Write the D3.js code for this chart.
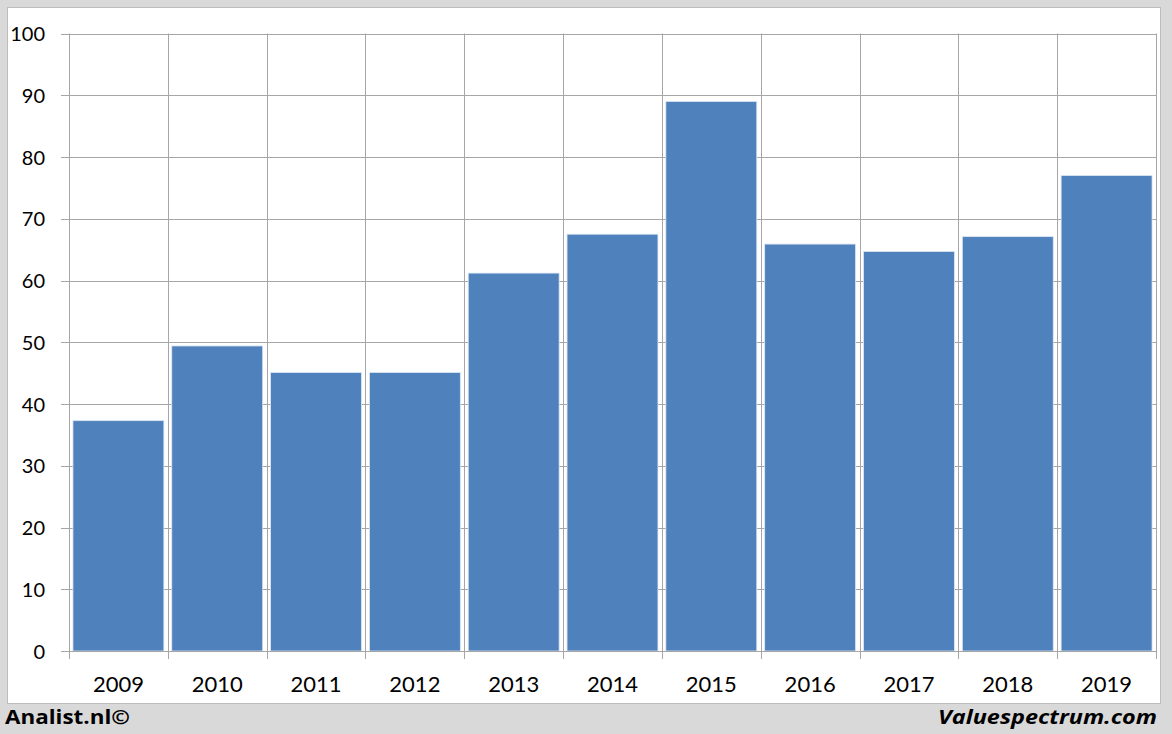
<!DOCTYPE html>
<html><head><meta charset="utf-8">
<script src="https://cdn.jsdelivr.net/npm/d3@7"></script>
<style>html,body{margin:0;padding:0;background:#d9d9d9;}svg{display:block;}</style>
</head><body>
<svg id="c" width="1172" height="734"></svg>
<script>
const years = ["2009","2010","2011","2012","2013","2014","2015","2016","2017","2018","2019"];
const values = [37.3, 49.4, 45.1, 45.1, 61.2, 67.5, 89.0, 65.9, 64.7, 67.1, 77.0];
const yTicks = [0,10,20,30,40,50,60,70,80,90,100];

const svg = d3.select("#c");
const W = 1172, H = 734;
const m = {left: 69, right: 1156, top: 33.5, bottom: 651};

svg.append("rect").attr("x",0).attr("y",0).attr("width",W).attr("height",H).attr("fill","#d9d9d9");
svg.append("rect").attr("x",7.5).attr("y",7.5).attr("width",1153).attr("height",696)
  .attr("fill","#fff").attr("stroke","#bdbdbd").attr("stroke-width",1);

const x = d3.scaleBand().domain(years).range([m.left, m.right]).paddingInner(0.08).paddingOuter(0.04);
const xb = d3.scaleBand().domain(years).range([m.left, m.right]).padding(0);
const y = d3.scaleLinear().domain([0,100]).range([m.bottom, m.top]);

const font = "Lato, 'Open Sans', sans-serif";
const grid = "#a6a6a6";

// horizontal gridlines
svg.append("g").selectAll("line").data(yTicks.filter(d=>d>0)).join("line")
  .attr("x1", m.left - 8).attr("x2", m.right)
  .attr("y1", d=>Math.round(y(d))+0.5).attr("y2", d=>Math.round(y(d))+0.5)
  .attr("stroke", grid).attr("stroke-width",1);

// vertical gridlines at category boundaries
const bounds = years.map(d=>xb(d)).concat([m.right]);
svg.append("g").selectAll("line").data(bounds).join("line")
  .attr("x1", d=>Math.round(d)+0.5).attr("x2", d=>Math.round(d)+0.5)
  .attr("y1", m.top).attr("y2", m.bottom + 8)
  .attr("stroke", grid).attr("stroke-width",1);

// bars
svg.append("g").selectAll("rect").data(values).join("rect")
  .attr("x", (d,i)=>x(years[i]))
  .attr("width", x.bandwidth())
  .attr("y", d=>y(d))
  .attr("height", d=>y(0)-y(d))
  .attr("fill", "#4f81bd")
  .attr("stroke", "#dce6f2").attr("stroke-width", 0.8);

// baseline
svg.append("line").attr("x1", m.left - 8).attr("x2", m.right)
  .attr("y1", Math.round(y(0))+0.5).attr("y2", Math.round(y(0))+0.5)
  .attr("stroke", grid);

// y-axis labels
const yAxis = d3.axisLeft(y).tickValues(yTicks).tickSize(0).tickPadding(0);
const ga = svg.append("g").attr("transform", `translate(${m.left - 24},0)`).call(yAxis);
ga.select(".domain").remove();
ga.selectAll("text").attr("font-family", font).attr("font-size", 20).attr("fill", "#000").attr("dy","0.35em");

// x-axis labels
const xAxis = d3.axisBottom(xb).tickSize(0).tickPadding(0);
const gx = svg.append("g").attr("transform", `translate(0,${m.bottom + 25})`).call(xAxis);
gx.select(".domain").remove();
gx.selectAll("text").attr("font-family", font).attr("font-size", 22).attr("fill", "#000").attr("dy","0.71em");

// footer texts
const ffont = "'Open Sans', Lato, sans-serif";
svg.append("text").attr("x", 5).attr("y", 724).text("Analist.nl©")
  .attr("font-family", ffont).attr("font-weight", "bold").attr("font-size", 20).attr("fill","#000")
  .attr("textLength", 125).attr("lengthAdjust", "spacingAndGlyphs");
svg.append("text").attr("x", 1157).attr("y", 724).attr("text-anchor","end").text("Valuespectrum.com")
  .attr("font-family", ffont).attr("font-weight", "bold").attr("font-style","italic").attr("font-size", 20).attr("fill","#000")
  .attr("textLength", 219).attr("lengthAdjust", "spacingAndGlyphs");
</script>
</body></html>
